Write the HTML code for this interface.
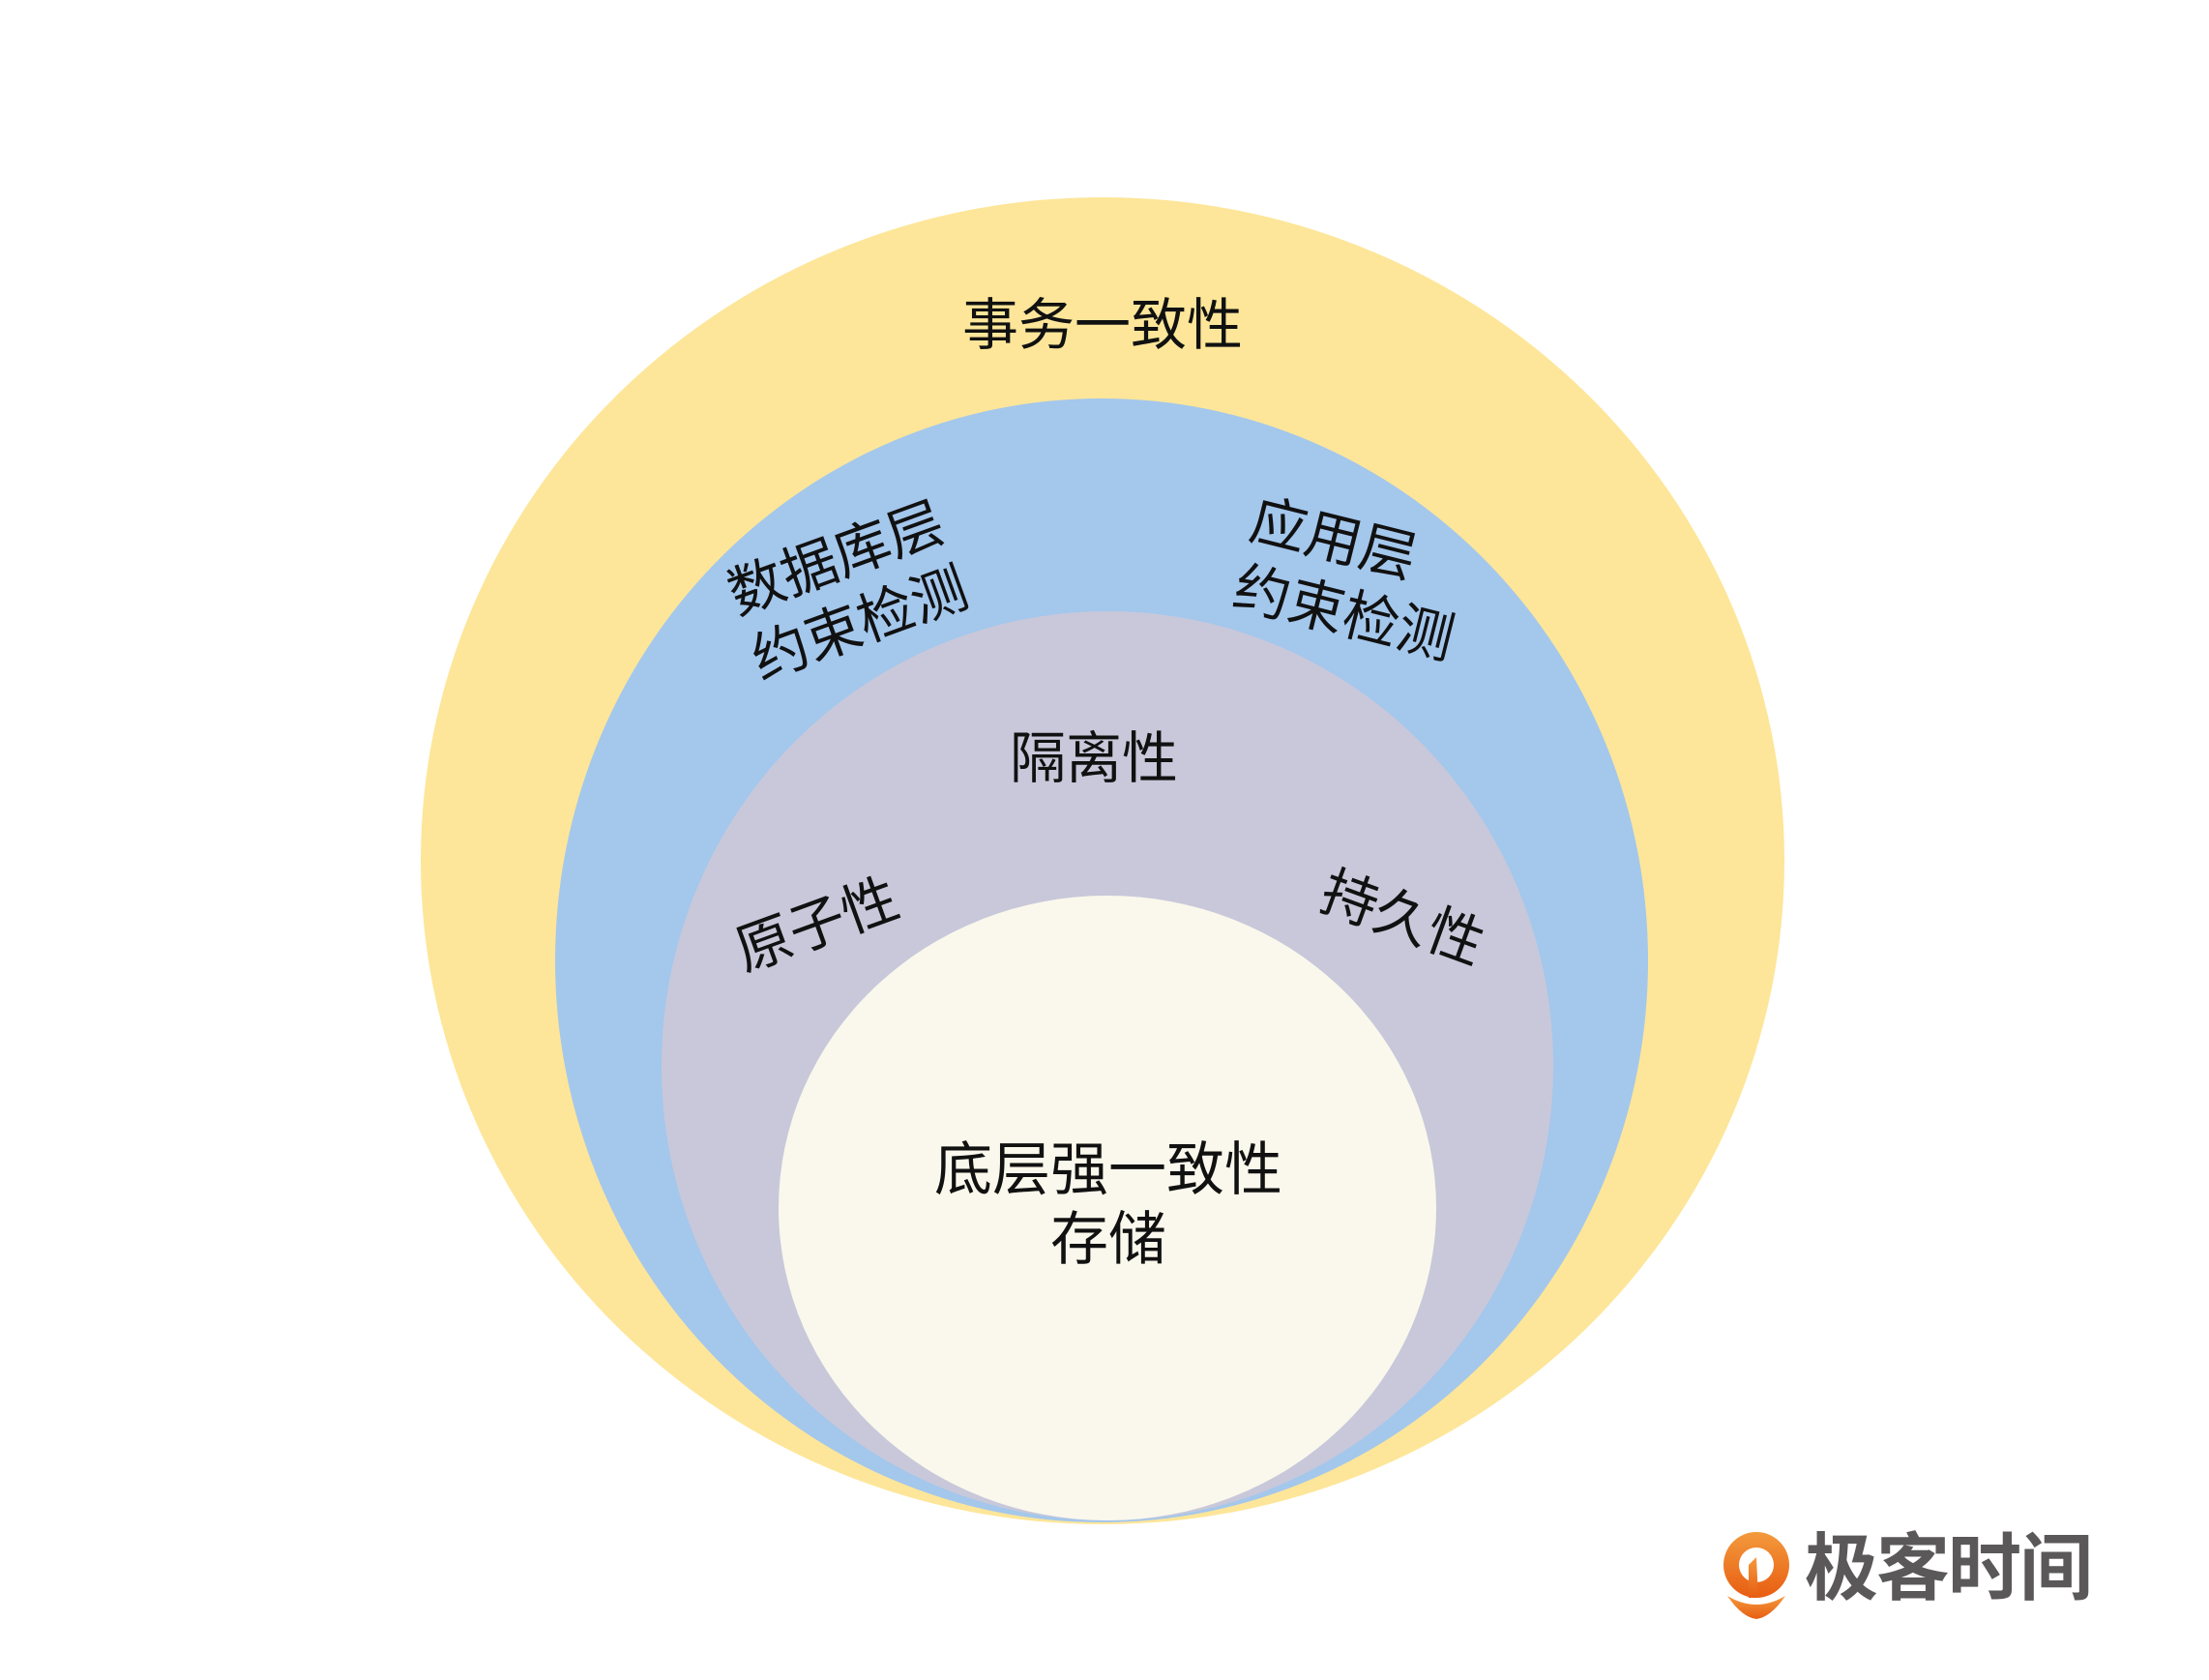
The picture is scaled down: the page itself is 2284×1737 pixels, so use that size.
<!DOCTYPE html>
<html><head><meta charset="utf-8"><style>
html,body{margin:0;padding:0;background:#fff;}
body{width:2284px;height:1737px;position:relative;overflow:hidden;font-family:"Liberation Sans","Noto Sans CJK SC",sans-serif;}
.t{position:absolute;color:#111;font-size:58px;line-height:72px;text-align:center;white-space:nowrap;transform:translate(-50%,-50%);}
</style></head><body>
<svg width="2284" height="1737" style="position:absolute;left:0;top:0">
<ellipse cx="1140" cy="890" rx="705" ry="686" fill="#fde699"/>
<ellipse cx="1139" cy="993" rx="565" ry="581" fill="#a4c7ec"/>
<ellipse cx="1145" cy="1102" rx="461" ry="470" fill="#c8c8da"/>
<ellipse cx="1145" cy="1249" rx="340" ry="323" fill="#faf8ec"/>
<defs><linearGradient id="g" x1="0" y1="0" x2="0" y2="1"><stop offset="0" stop-color="#f39a3c"/><stop offset="1" stop-color="#e85d12"/></linearGradient></defs>
<circle cx="1816" cy="1618" r="34" fill="url(#g)"/>
<circle cx="1816" cy="1618" r="18" fill="#fff"/>
<path d="M1808 1618 L1816 1610 L1818 1652 L1808 1652Z" fill="url(#g)"/>
<path d="M1786 1650 Q1816 1668 1846 1650 Q1831 1672 1816 1674 Q1801 1672 1786 1650Z" fill="url(#g)"/>
</svg>
<div class="t" style="left:1140px;top:337px">事务一致性</div>
<div class="t" style="left:877px;top:612px;transform:translate(-50%,-50%) rotate(-20deg)">数据库层<br>约束检测</div>
<div class="t" style="left:1398px;top:600px;text-align:left;transform:translate(-50%,-50%) rotate(14deg)">应用层<br>约束检测</div>
<div class="t" style="left:1131px;top:785px">隔离性</div>
<div class="t" style="left:845px;top:957px;transform:translate(-50%,-50%) rotate(-20deg)">原子性</div>
<div class="t" style="left:1450px;top:950px;transform:translate(-50%,-50%) rotate(20deg)">持久性</div>
<div class="t" style="left:1146px;top:1246px;font-size:60px">底层强一致性<br>存储</div>
<div style="position:absolute;left:1866px;top:1578px;font-size:76px;line-height:90px;color:#5a5858;font-weight:bold;letter-spacing:-2px">极客时间</div>
</body></html>
